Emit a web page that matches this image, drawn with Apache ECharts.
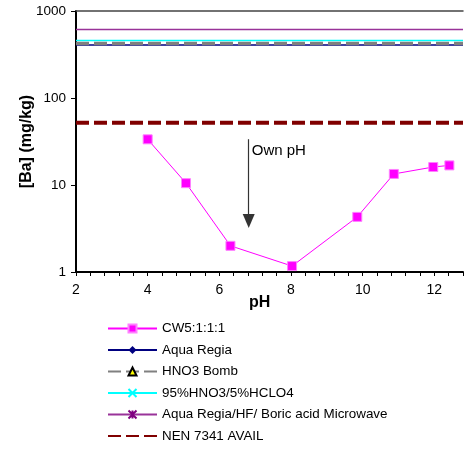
<!DOCTYPE html>
<html><head><meta charset="utf-8">
<script src="https://cdn.jsdelivr.net/npm/echarts@6/dist/echarts.min.js"></script>
<style>html,body{margin:0;padding:0;background:#fff}#c{width:466px;height:451px}</style>
</head><body><div id="c"></div>
<script>
// ---- data ----
const cwPH = [4.0, 5.07, 6.31, 8.03, 9.85, 10.87, 11.97, 12.42];
const cwBa = [33.5, 10.5, 2.0, 1.17, 4.3, 13.4, 16.1, 16.8];
const refNames = ['Aqua Regia', 'HNO3 Bomb', '95%HNO3/5%HCLO4', 'Aqua Regia/HF/ Boric acid Microwave', 'NEN 7341 AVAIL'];
const refValues = [407, 423, 458, 613, 52];
const xRange = [2, 12.8];
const xTickLabels = [2, 4, 6, 8, 10, 12];
const yTickLabels = [1, 10, 100, 1000];
const arrowPH = 6.82;
const arrowFrom = 33.6;
const arrowTo = 3.85;
const arrowText = 'Own pH';

const FONT = 'Liberation Sans, Arial, sans-serif';
const chart = echarts.init(document.getElementById('c'));

const refStyles = [
  {color: '#000080', type: 'solid', width: 1.5, symbol: 'diamond', symbolSize: 10, item: {color: '#000080'}},
  {color: '#808080', type: [13, 5], width: 3.5, symbol: 'triangle', symbolSize: 10, item: {color: '#ffff00', borderColor: '#000', borderWidth: 1}},
  {color: '#00ffff', type: 'solid', width: 1.5, symbol: 'path://M0,0L10,10M10,0L0,10', symbolSize: 10, item: {color: 'none', borderColor: '#00ffff', borderWidth: 1.5}},
  {color: '#993399', type: 'solid', width: 1.5, symbol: 'path://M0,0L10,10M10,0L0,10M5,0L5,10', symbolSize: 10, item: {color: 'none', borderColor: '#800080', borderWidth: 1.5}},
  {color: '#800000', type: [13, 5], width: 4, symbol: 'none', symbolSize: 0, item: {color: '#800000'}}
];

const series = [{
  name: 'CW5:1:1:1',
  type: 'line',
  data: cwPH.map((x, i) => [x, cwBa[i]]),
  symbol: 'rect',
  symbolSize: 9,
  lineStyle: {color: '#ff00ff', width: 1},
  itemStyle: {color: '#ff00ff', borderColor: '#ff80ff', borderWidth: 1},
  z: 5,
  markLine: {
    silent: true,
    symbol: ['none', 'triangle'],
    symbolSize: [12, 14],
    lineStyle: {color: '#333', width: 1.2, type: 'solid'},
    itemStyle: {color: '#000'},
    label: {show: false},
    data: [[{coord: [arrowPH, arrowFrom]}, {coord: [arrowPH, arrowTo]}]]
  }
}];
refNames.forEach((n, i) => {
  const s = refStyles[i];
  series.push({
    name: n,
    type: 'line',
    data: [[xRange[0], refValues[i]], [xRange[1], refValues[i]]],
    symbol: s.symbol,
    symbolSize: s.symbolSize,
    showSymbol: false,
    lineStyle: {color: s.color, width: s.width, type: s.type},
    itemStyle: s.item,
    z: i === 1 ? 4 : 3
  });
});

const legendData = [{name: 'CW5:1:1:1'}].concat(refNames.map((n, i) =>
  refStyles[i].symbol === 'none' ? {name: n, itemStyle: {opacity: 0}} : {name: n}));

chart.setOption({
  animation: false,
  backgroundColor: '#fff',
  grid: {left: 76, top: 11, right: 0, bottom: 179},
  legend: {
    orient: 'vertical',
    left: 107,
    top: 322,
    height: 200,
    padding: 0,
    itemWidth: 49,
    itemHeight: 10,
    itemGap: 8.5,
    textStyle: {fontFamily: FONT, fontSize: 13.4, color: '#000'},
    data: legendData
  },
  xAxis: [{
    type: 'value',
    min: xRange[0], max: xRange[1], interval: 0.4,
    axisLine: {lineStyle: {color: '#000', width: 2}},
    axisTick: {show: true, length: 4, lineStyle: {color: '#000', width: 1}},
    splitLine: {show: false},
    axisLabel: {
      fontFamily: FONT, fontSize: 14, color: '#000', margin: 11,
      formatter: v => xTickLabels.some(t => Math.abs(t - v) < 1e-6) ? String(Math.round(v)) : ''
    }
  }, {
    type: 'value', position: 'top',
    min: xRange[0], max: xRange[1],
    axisLine: {show: true, onZero: false, lineStyle: {color: '#444', width: 1.5}},
    axisTick: {show: false}, axisLabel: {show: false}, splitLine: {show: false}
  }],
  yAxis: {
    type: 'log', logBase: 10, min: yTickLabels[0], max: yTickLabels[yTickLabels.length - 1],
    name: '[Ba] (mg/kg)', nameLocation: 'middle', nameGap: 41, nameMoveOverlap: false,
    nameTextStyle: {fontFamily: FONT, fontSize: 16, fontWeight: 'bold', color: '#000'},
    axisLine: {show: true, lineStyle: {color: '#000', width: 2}},
    axisTick: {show: true, length: 5, lineStyle: {color: '#000', width: 1}},
    splitLine: {show: false},
    minorTick: {show: false},
    axisLabel: {fontFamily: FONT, fontSize: 13.5, color: '#000', margin: 10,
      formatter: v => String(Math.round(v))}
  },
  series: series
});

const p = chart.convertToPixel({gridIndex: 0}, [arrowPH, arrowFrom]);
chart.setOption({
  graphic: [
    {type: 'text', left: p[0] + 3, top: p[1] + 4,
     style: {text: arrowText, font: '15px ' + FONT, fill: '#000'}},
    {type: 'text', left: 249, top: 295,
     style: {text: 'pH', font: 'bold 16px ' + FONT, fill: '#000'}}
  ]
});
</script></body></html>
